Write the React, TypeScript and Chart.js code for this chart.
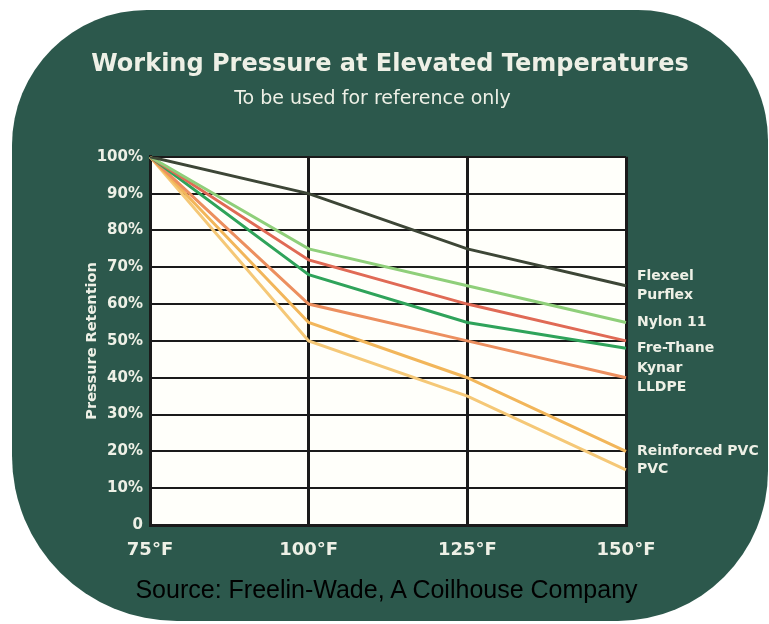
import React, { useEffect, useRef } from "react";
import { Chart, registerables } from "chart.js";

Chart.register(...registerables);

// ---- Data ----
const temperatures = ["75°F", "100°F", "125°F", "150°F"];

const flexeelPurflex = [100, 90, 75, 65];
const nylon11 = [100, 75, 65, 55];
const redSeries = [100, 72, 60, 50];
const freThane = [100, 68, 55, 48];
const kynarLldpe = [100, 60, 50, 40];
const reinforcedPvc = [100, 55, 40, 20];
const pvc = [100, 50, 35, 15];

const seriesNames = [
  "Flexeel / Purflex",
  "Nylon 11",
  "Series 3",
  "Fre-Thane",
  "Kynar / LLDPE",
  "Reinforced PVC",
  "PVC",
];
const seriesValues = [flexeelPurflex, nylon11, redSeries, freThane, kynarLldpe, reinforcedPvc, pvc];
const seriesColors = ["#3d4636", "#8fcf7a", "#e06a55", "#2fa35a", "#ec8f5f", "#f2b65a", "#f5c877"];
const endLabels = [
  ["Flexeel", "Purflex"],
  ["Nylon 11"],
  [],
  ["Fre-Thane"],
  ["Kynar", "LLDPE"],
  ["Reinforced PVC"],
  ["PVC"],
];

const titleText = "Working Pressure at Elevated Temperatures";
const subtitleText = "To be used for reference only";
const yTitleText = "Pressure Retention";
const sourceText = "Source: Freelin-Wade, A Coilhouse Company";

// ---- Style ----
const FONT = "'DejaVu Sans', sans-serif";
const TEXT = "#eef0e6";
const INK = "#1a1a1a";
const BG = "#2c584c";

const plotBackground = {
  id: "plotBackground",
  beforeDraw(chart: any) {
    const { ctx, chartArea: a } = chart;
    ctx.save();
    ctx.fillStyle = "#fffffa";
    ctx.fillRect(a.left, a.top, a.right - a.left, a.bottom - a.top);
    ctx.restore();
  },
};

const subtitlePlugin = {
  id: "subtitleLine",
  afterDraw(chart: any) {
    const { ctx } = chart;
    ctx.save();
    ctx.font = `19px ${FONT}`;
    ctx.fillStyle = TEXT;
    ctx.textAlign = "center";
    ctx.textBaseline = "middle";
    ctx.fillText(subtitleText, 372.5, 99);
    ctx.restore();
  },
};

const endLabelPlugin = {
  id: "endLabels",
  afterDatasetsDraw(chart: any) {
    const { ctx, chartArea } = chart;
    const LINE = 19;
    const MIN = 16;
    const items: { text: string; y: number }[] = [];
    chart.data.datasets.forEach((_ds: any, i: number) => {
      const lines = endLabels[i];
      if (!lines || !lines.length) return;
      const meta = chart.getDatasetMeta(i);
      const pt = meta.data[meta.data.length - 1];
      const start = pt.y - ((lines.length - 1) * LINE) / 2;
      lines.forEach((t, k) => items.push({ text: t, y: start + k * LINE }));
    });
    items.sort((a, b) => a.y - b.y);
    for (let k = 1; k < items.length; k++) {
      if (items[k].y < items[k - 1].y + MIN) items[k].y = items[k - 1].y + MIN;
    }
    ctx.save();
    ctx.font = `bold 14px ${FONT}`;
    ctx.fillStyle = TEXT;
    ctx.textAlign = "left";
    ctx.textBaseline = "middle";
    items.forEach((it) => ctx.fillText(it.text, chartArea.right + 11, it.y));
    ctx.restore();
  },
};

export default function App() {
  const canvasRef = useRef<HTMLCanvasElement | null>(null);

  useEffect(() => {
    if (!canvasRef.current) return;
    const chart = new Chart(canvasRef.current, {
      type: "line",
      data: {
        labels: temperatures,
        datasets: seriesValues.map((vals, i) => ({
          label: seriesNames[i],
          data: vals,
          borderColor: seriesColors[i],
          backgroundColor: seriesColors[i],
          borderWidth: 3,
          pointRadius: 0,
          tension: 0,
          fill: false,
          yAxisID: "y",
        })),
      },
      options: {
        responsive: false,
        animation: false,
        layout: { padding: { left: 60, right: 49, top: 0, bottom: 62 } },
        plugins: {
          legend: { display: false },
          tooltip: { enabled: false },
          title: {
            display: true,
            text: titleText,
            color: TEXT,
            fullSize: true,
            font: { family: FONT, size: 24, weight: "bold", lineHeight: 1.2 },
            padding: { top: 50, bottom: 78 },
          },
        },
        scales: {
          x: {
            type: "category",
            offset: false,
            grid: { color: INK, lineWidth: 3, drawTicks: false },
            border: { display: true, color: INK, width: 3 },
            ticks: {
              color: TEXT,
              font: { family: FONT, size: 18, weight: "bold", lineHeight: 1.2 },
              padding: 15,
              maxRotation: 0,
              autoSkip: false,
            },
            afterFit: (s: any) => {
              s.height = 37;
            },
          },
          y: {
            type: "linear",
            position: "left",
            min: 0,
            max: 100,
            grid: { color: INK, lineWidth: 2, drawTicks: false },
            border: { display: true, color: INK, width: 3 },
            ticks: {
              stepSize: 10,
              color: TEXT,
              font: { family: FONT, size: 15, weight: "bold" },
              padding: 7,
              callback: (v: any) => (Number(v) === 0 ? "0" : `${v}%`),
            },
            title: {
              display: true,
              text: yTitleText,
              color: TEXT,
              font: { family: FONT, size: 14.5, weight: "bold", lineHeight: 1.2 },
              padding: { top: 24, bottom: 0 },
            },
            afterFit: (s: any) => {
              s.width = 90;
            },
          },
          yRight: {
            type: "linear",
            position: "right",
            display: true,
            min: 0,
            max: 100,
            grid: { display: false, drawOnChartArea: false },
            border: { display: false },
            ticks: { display: false },
            afterFit: (s: any) => {
              s.width = 94;
            },
          },
        },
      },
      plugins: [plotBackground, endLabelPlugin, subtitlePlugin],
    } as any);
    return () => chart.destroy();
  }, []);

  return (
    <div
      style={{
        position: "absolute",
        left: 0,
        top: 0,
        width: 769,
        height: 624,
        background: "#ffffff",
        overflow: "hidden",
      }}
    >
      <div
        style={{
          position: "absolute",
          left: 12,
          top: 10,
          width: 756,
          height: 611,
          background: BG,
          borderRadius: "135px 130px 150px 165px",
        }}
      />
      <canvas
        ref={canvasRef}
        width={769}
        height={624}
        style={{ position: "absolute", left: 0, top: 0, display: "block" }}
      />
      <div
        style={{
          position: "absolute",
          left: 0,
          width: 773,
          top: 574,
          textAlign: "center",
          fontFamily: "'Liberation Sans', Arial, sans-serif",
          fontSize: 25,
          lineHeight: "30px",
          color: "#000",
          whiteSpace: "nowrap",
        }}
      >
        {sourceText}
      </div>
    </div>
  );
}
